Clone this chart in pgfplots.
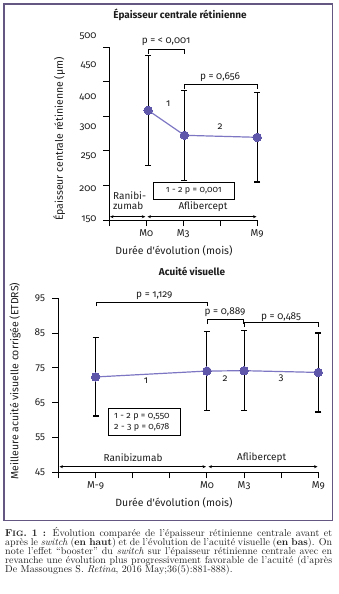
\documentclass[border=0pt]{standalone}
\usepackage{fontspec}
\usepackage{pgfplots}
\pgfplotsset{compat=1.18}
\usepackage{pgfplotstable}
\usetikzlibrary{arrows.meta}
\newfontfamily\cf{Fira Sans}[Numbers=OldStyle]
\definecolor{markc}{RGB}{95,88,170}
\definecolor{linec}{RGB}{125,118,195}
\definecolor{framec}{RGB}{100,88,130}
\definecolor{txt}{RGB}{30,30,30}

\pgfplotstableread{
x y ep em
0.15 308.8 79.6 79.6
3.1 272.6 64.6 65.1
9 269.7 64.8 64.7
}\topdata
\pgfplotstableread{
x y ep em
-9 72.4 11.3 11.2
0 74.1 11.3 11.4
3 74.2 11.5 11.5
9 73.7 11.4 11.4
}\botdata

\pgfplotsset{
  myaxis/.style={
    scale only axis, clip=false,
    axis x line*=bottom, axis y line*=left,
    axis line style={line width=1pt, black},
    tick style={black, line width=1pt},
    major tick length=6pt, tick align=outside,
    ticklabel style={font=\cf\fontsize{10}{12}\selectfont, text=txt},
    label style={font=\cf\fontsize{10.5}{12}\selectfont, text=txt},
    title style={font=\cf\bfseries\fontsize{10}{12}\selectfont, text=txt, anchor=center},
  },
  errplot/.style={draw=none, mark=none, forget plot,
    error bars/.cd, y dir=both, y explicit,
    error bar style={draw=black, line width=1pt},
    error mark options={rotate=90, draw=black, line width=1.5pt, mark size=3pt}},
  meanplot/.style={color=linec, line width=1.2pt, mark=*, mark size=4.2pt,
    mark options={fill=markc, draw=markc, line width=0pt}},
}

\begin{document}
\begin{tikzpicture}
\path[use as bounding box] (0,0) rectangle (339pt,-594pt);

% ---------------- top chart ----------------
\begin{axis}[myaxis,
  at={(109.3pt,-220pt)}, anchor=south west,
  width=147.9pt, height=172.7pt,
  xmin=-3, xmax=9, ymin=150, ymax=400,
  xtick={-3,0,3,6,9}, xticklabels={,M0,M3,,M9},
  ytick={150,200,...,400}, yticklabels={},
  title={Épaisseur centrale rétinienne},
  title style={at={(axis description cs:0.478,1.152)}},
  xlabel={Durée d'évolution (mois)},
  xlabel style={at={(axis description cs:0.4375,-0.1795)}, anchor=center},
  ylabel={Épaisseur centrale rétinienne (µm)},
  ylabel style={at={(axis description cs:-0.338,0.469)}, anchor=center},
]
\addplot[errplot] table[x=x, y=y, y error plus=ep, y error minus=em] {\topdata};
\addplot[meanplot] table[x=x, y=y] {\topdata};
\end{axis}

\begin{scope}[font=\cf\fontsize{10}{12}\selectfont, text=txt]
  % y tick labels as printed in the source figure
  \foreach \v/\yy in {500/36, 450/65.3, 400/96.7, 300/127, 250/156.7, 200/189, 150/219}
    \node[anchor=east, inner sep=0pt] at (96.7pt,-\yy pt) {\v};
  \draw[line width=0.9pt] (148.3pt,-54pt) -- (148.3pt,-49.7pt) -- (184.3pt,-49.7pt) -- (184.3pt,-54pt);
  \node at (166pt,-42pt) {p = < 0,001};
  \draw[line width=0.9pt] (184.3pt,-89pt) -- (184.3pt,-84pt) -- (257.2pt,-84pt) -- (257.2pt,-89pt);
  \node at (220pt,-77pt) {p = 0,656};
  \node at (168.3pt,-104pt) {1};
  \node at (220pt,-127pt) {2};
  \draw[line width=0.8pt] (153pt,-182.7pt) rectangle (234.7pt,-199.3pt);
  \node[font=\cf\fontsize{9}{11}\selectfont] at (193.8pt,-191pt) {1 - 2 p = 0,001};
  \node[align=left, anchor=north west, inner sep=0pt, font=\cf\fontsize{10}{10}\selectfont] at (113pt,-191pt) {Ranibi-\\zumab};
  \node at (203pt,-207pt) {Aflibercept};
  \draw[{Stealth[length=3.5pt,width=3pt]}-{Stealth[length=3.5pt,width=3pt]}, line width=0.7pt] (110pt,-216.7pt) -- (145.3pt,-216.7pt);
  \draw[{Stealth[length=3.5pt,width=3pt]}-{Stealth[length=3.5pt,width=3pt]}, line width=0.7pt] (147.5pt,-216.7pt) -- (256.5pt,-216.7pt);
\end{scope}

% ---------------- bottom chart ----------------
\begin{axis}[myaxis,
  at={(58.5pt,-472.3pt)}, anchor=south west,
  width=259.8pt, height=174pt,
  xmin=-12, xmax=9, ymin=45, ymax=95,
  xtick={-12,-9,-6,-3,0,3,6,9}, xticklabels={,M-9,,,M0,M3,,M9},
  ytick={45,55,65,75,85,95}, yticklabels={45,55,65,75,85,95},
  yticklabel style={xshift=-4pt},
  title={Acuité visuelle},
  title style={at={(axis description cs:0.514,1.122)}},
  xlabel={Durée d'évolution (mois)},
  xlabel style={at={(axis description cs:0.4446,-0.176)}, anchor=center},
  ylabel={Meilleure acuité visuelle corrigée (ETDRS)},
  ylabel style={at={(axis description cs:-0.1674,0.5247)}, anchor=center},
]
\addplot[errplot] table[x=x, y=y, y error plus=ep, y error minus=em] {\botdata};
\addplot[meanplot] table[x=x, y=y] {\botdata};
\end{axis}

\begin{scope}[font=\cf\fontsize{10}{12}\selectfont, text=txt]
  \draw[line width=0.9pt] (96.3pt,-306pt) -- (96.3pt,-302pt) -- (207pt,-302pt) -- (207pt,-306pt);
  \node at (154.3pt,-295.7pt) {p = 1,129};
  \draw[line width=0.9pt] (207pt,-324pt) -- (207pt,-319.3pt) -- (243.7pt,-319.3pt) -- (243.7pt,-324pt);
  \node at (225pt,-312.3pt) {p = 0,889};
  \draw[line width=0.9pt] (244pt,-327pt) -- (244pt,-322.7pt) -- (318pt,-322.7pt) -- (318pt,-327pt);
  \node at (281pt,-317.3pt) {p = 0,485};
  \node at (146pt,-380.3pt) {1};
  \node at (225pt,-378.3pt) {2};
  \node at (281pt,-378pt) {3};
  \draw[line width=0.8pt] (108.3pt,-408.3pt) rectangle (180pt,-435pt);
  \node[align=left, anchor=west, inner sep=0pt, font=\cf\fontsize{9}{11}\selectfont] at (114pt,-422pt) {1 - 2 p = 0,550\\2 - 3 p = 0,678};
  \node at (133pt,-458pt) {Ranibizumab};
  \node at (261.7pt,-458pt) {Aflibercept};
  \draw[{Stealth[length=3.5pt,width=3pt]}-{Stealth[length=3.5pt,width=3pt]}, line width=0.7pt] (59.5pt,-466.7pt) -- (206pt,-466.7pt);
  \draw[{Stealth[length=3.5pt,width=3pt]}-{Stealth[length=3.5pt,width=3pt]}, line width=0.7pt] (208.5pt,-466.7pt) -- (317.5pt,-466.7pt);
\end{scope}

% ---------------- caption ----------------
\begin{scope}[every node/.style={anchor=base west, inner sep=0pt, font=\fontsize{10}{10}\selectfont, text=txt}]
  \node at (5pt,-536pt) {\makebox[327pt][s]{\textbf{F{\fontsize{7.8}{7.8}\selectfont IG}. 1 :} Évolution comparée de l’épaisseur rétinienne centrale avant et}};
  \node at (5pt,-545.2pt) {\makebox[327pt][s]{après le \textit{switch} (\textbf{en haut}) et de l’évolution de l’acuité visuelle (\textbf{en bas}). On}};
  \node at (5pt,-554.4pt) {\makebox[327pt][s]{note l’effet “booster” du \textit{switch} sur l’épaisseur rétinienne centrale avec en}};
  \node at (5pt,-563.6pt) {\makebox[327pt][s]{revanche une évolution plus progressivement favorable de l’acuité (d’après}};
  \node at (5pt,-572.8pt) {De Massougnes S. \textit{Retina}, 2016 May;36(5):881-888).};
\end{scope}

% frame around both charts
\draw[color=framec, line width=1.5pt] (4pt,-4pt) -- (332.5pt,-4pt) -- (332.5pt,-520.5pt) -- (4pt,-520.5pt) -- cycle;
\end{tikzpicture}
\end{document}
